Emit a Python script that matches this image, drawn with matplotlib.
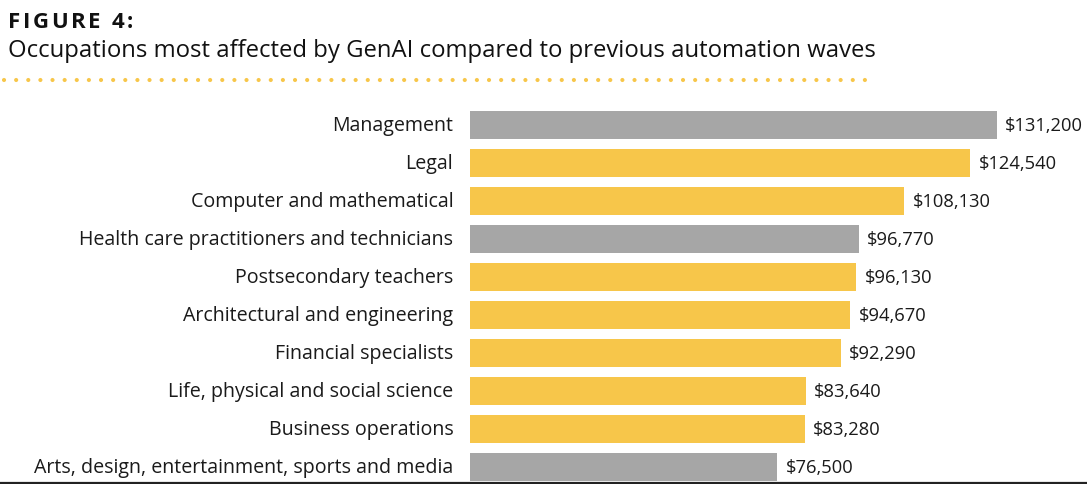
import matplotlib.pyplot as plt
from matplotlib.lines import Line2D
from matplotlib.transforms import ScaledTranslation

plt.rcParams['font.family'] = ['Open Sans', 'DejaVu Sans']

# data
occupations = [
    "Management",
    "Legal",
    "Computer and mathematical",
    "Health care practitioners and technicians",
    "Postsecondary teachers",
    "Architectural and engineering",
    "Financial specialists",
    "Life, physical and social science",
    "Business operations",
    "Arts, design, entertainment, sports and media",
]
wages = [131200, 124540, 108130, 96770, 96130, 94670, 92290, 83640, 83280, 76500]
genai_only = [False, True, True, False, True, True, True, True, True, False]

yellow = "#F7C64A"
gray = "#A6A6A6"
text_col = "#1a1a1a"

W, H = 1087, 484
fig = plt.figure(figsize=(W / 100, H / 100), dpi=100)

# axes placed in pixel terms
left_px, right_px = 470, 1087
top_px, bottom_px = 106, 482.2
ax = fig.add_axes([left_px / W, (H - bottom_px) / H,
                   (right_px - left_px) / W, (bottom_px - top_px) / H])

colors = [yellow if g else gray for g in genai_only]
pos = list(range(len(occupations)))
ax.barh(pos, wages, height=0.74, color=colors)
ax.set_xlim(0, 131200 * (right_px - left_px) / 527)
ax.set_ylim(9.4, -0.5)
ax.set_yticks(pos)
ax.set_yticklabels(occupations, fontsize=14.1, color=text_col)
ax.tick_params(axis='y', length=0, pad=12)
ax.set_xticks([])
for s in ax.spines.values():
    s.set_visible(False)
shift_up = ScaledTranslation(0, 1.5 / 100, fig.dpi_scale_trans)
for lbl in ax.get_yticklabels():
    lbl.set_transform(lbl.get_transform() + shift_up)

for p, w in zip(pos, wages):
    ax.annotate(f"${w:,}", (w, p), xytext=(6, -1), textcoords='offset points',
                va='center', ha='left', fontsize=13.2, color=text_col)

# title, letter-spaced
fig.canvas.draw()
renderer = fig.canvas.get_renderer()
x = 8 / W
for ch in "FIGURE 4:":
    t = fig.text(x, 1 - 22 / H, ch, fontsize=16, fontweight='bold',
                 color='#111111', va='center', ha='left')
    bb = t.get_window_extent(renderer)
    x += (bb.width + 2.6) / W
fig.text(8 / W, 1 - 51 / H,
         "Occupations most affected by GenAI compared to previous automation waves",
         fontsize=17.2, color='#111111', va='center', ha='left')

# dotted separator
fig.add_artist(Line2D([4 / W, 877 / W], [1 - 80 / H, 1 - 80 / H],
                      transform=fig.transFigure, color=yellow, lw=3.0,
                      linestyle=(0, (0.01, 2.9)), dash_capstyle='round'))
# bottom rule
fig.add_artist(Line2D([0, 1], [1 - 483 / H, 1 - 483 / H],
                      transform=fig.transFigure, color='#222222', lw=1.6))

fig.savefig("out.png", dpi=100)
